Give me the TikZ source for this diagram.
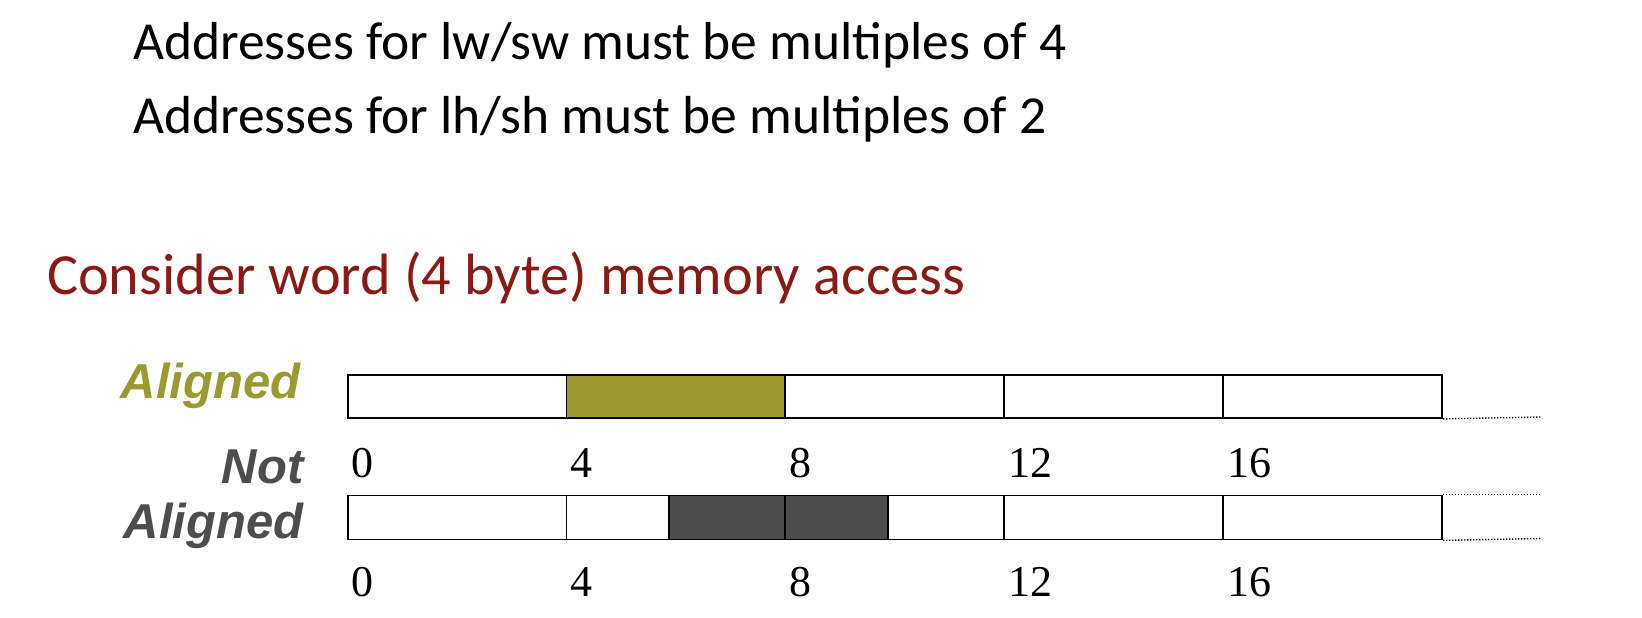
\documentclass[tikz,border=0pt]{standalone}
\usepackage{fontspec}
\setmainfont{Carlito}
\newfontfamily\arialfont{Liberation Sans}
\newfontfamily\timesfont{Liberation Serif}
\definecolor{olivec}{HTML}{9A9A30}
\definecolor{darkg}{HTML}{4D4D4D}
\definecolor{titlered}{HTML}{8C1A14}
\begin{document}
\begin{tikzpicture}[x=1pt,y=-1pt,
  cell/.style={draw=black,line width=1.9pt,inner sep=0pt,anchor=north west,minimum width=218.9pt},
  num/.style={font=\timesfont\fontsize{44}{48}\selectfont,anchor=base west,inner sep=0pt},
  lab/.style={font=\arialfont\bfseries\itshape\fontsize{49}{52}\selectfont,anchor=base east,inner sep=0pt},
  body/.style={font=\fontsize{53.5}{58}\selectfont,anchor=base west,inner sep=0pt},
  dots/.style={line width=1.4pt,dash pattern=on 1.4pt off 1.6pt}]
\useasboundingbox (0,0) rectangle (1642,618);
% texts
\node[body] (t1) at (133,59.7) {Addresses for lw/sw must be multiples of 4};
\node[body] (t2) at (133,133) {Addresses for lh/sh must be multiples of 2};
\node[body,font=\fontsize{58.3}{62}\selectfont,text=titlered] (t3) at (47,294) {Consider word (4 byte) memory access};
% aligned row
\node[lab,text=olivec] (la) at (300.5,398) {Aligned};
\node[cell,minimum height=43pt] (a0) at (346.6,374) {};
\node[cell,minimum height=43pt,fill=olivec] (a1) at (565.5,374) {};
\node[cell,minimum height=43pt] (a2) at (784.4,374) {};
\node[cell,minimum height=43pt] (a3) at (1003.3,374) {};
\node[cell,minimum height=43pt] (a4) at (1222.2,374) {};
\coordinate (ae) at (1541,417);
\draw[dots] (a4.south east) -- (ae);
\node[num] (na0) at (351,477.5) {0};
\node[num] (na1) at (570,477.5) {4};
\node[num] (na2) at (789,477.5) {8};
\node[num] (na3) at (1008,477.5) {12};
\node[num] (na4) at (1227,477.5) {16};
% not aligned row
\node[lab,text=darkg] (lb1) at (303.7,483) {Not};
\node[lab,text=darkg] (lb2) at (303.7,538) {Aligned};
\node[cell,minimum height=44pt,fill=darkg] (acc) at (668.4,494.5) {};
\node[cell,minimum height=44pt] (b0) at (346.6,494.5) {};
\node[cell,minimum height=44pt] (b1) at (565.5,494.5) {};
\node[cell,minimum height=44pt] (b2) at (784.4,494.5) {};
\node[cell,minimum height=44pt] (b3) at (1003.3,494.5) {};
\node[cell,minimum height=44pt] (b4) at (1222.2,494.5) {};
\coordinate (be1) at (1541,494.5);
\coordinate (be2) at (1541,538.5);
\draw[dots] (b4.north east) -- (be1);
\draw[dots] (b4.south east) -- (be2);
\node[num] (nb0) at (351,596) {0};
\node[num] (nb1) at (570,596) {4};
\node[num] (nb2) at (789,596) {8};
\node[num] (nb3) at (1008,596) {12};
\node[num] (nb4) at (1227,596) {16};
\end{tikzpicture}
\end{document}
